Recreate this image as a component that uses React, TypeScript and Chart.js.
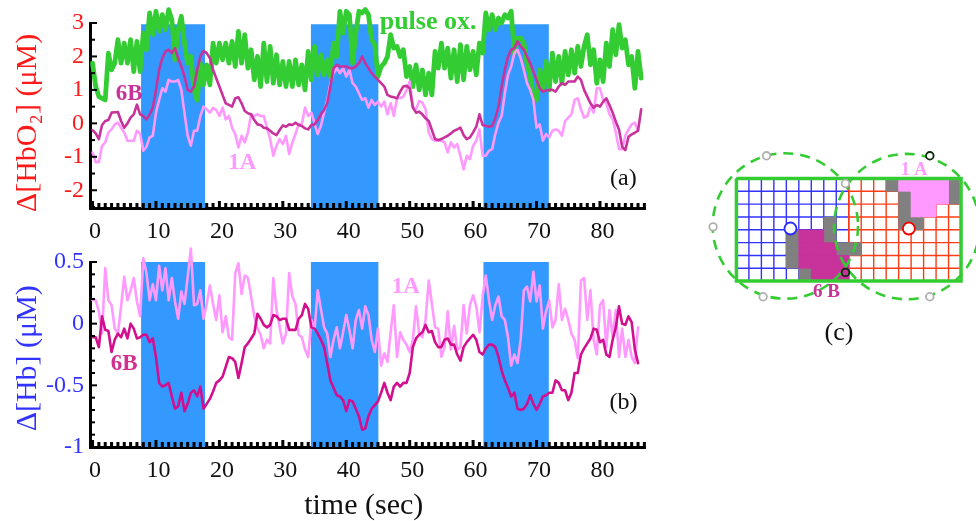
import React, { useEffect, useRef } from "react";
import { Chart, registerables } from "chart.js";

Chart.register(...registerables);

const SERIF = '"Liberation Serif", "Times New Roman", serif';
const SAMPLE_STEP = 0.5;

const stimStart = [7.65, 34.4, 61.6];
const stimEnd = [17.75, 45.1, 71.95];

const hbo2SixB = [
  -.2,-.3,-.47,-.05,.07,.1,.32,.33,.34,.07,-.13,0,.17,.27,.56,.27,.22,.12,.27,.47,1.0,1.6,1.95,2.15,2.2,2.1,2.25,1.95,1.7,1.4,1.0,.95,1.1,1.6,2.0,2.17,2.1,1.95,1.6,1.35,1.1,.85,.6,.55,.5,.75,.78,.6,.37,.3,.27,.1,-.03,-.05,-.13,-.15,-.22,-.3,-.35,-.2,-.06,-.1,-.03,-.05,.02,-.05,-.08,-.15,-.18,-.05,-.03,.1,.27,.4,.6,1.1,1.65,1.75,1.7,1.7,1.7,1.65,1.65,1.7,1.8,2.0,1.8,1.65,1.5,1.4,1.3,1.2,1.1,.85,.8,.78,.75,.95,1.1,1.12,1.05,.47,.32,.35,.27,.15,.07,-.2,-.47,-.5,-.47,-.42,-.37,-.3,-.22,-.18,-.13,-.35,-.47,-.42,-.27,-.1,.27,-.05,-.08,-.1,-.08,.15,.5,1.1,1.6,2.0,2.2,2.25,2.45,2.3,2.2,2.0,1.8,1.55,1.3,1.05,.95,.98,1.0,1.0,.95,1.1,1.2,1.15,1.25,1.25,1.25,1.4,1.3,1.0,.8,.6,.47,.55,.5,.65,.75,.55,.32,.05,-.18,-.7,-.8,-.4,-.33,-.28,-.22,.42,
];
const hbo2OneA = [
  -.87,-1.16,-1.16,-.67,-.57,-.27,-.18,-.03,.02,-.13,-.27,-.52,-.52,-.52,-.22,-.3,-.82,-.7,-.42,-.37,.32,.7,1.05,.95,1.3,1.25,1.25,1.3,1.0,.3,-.37,-.67,-.22,-.22,.22,.5,.42,.32,.46,.4,.22,.47,.12,.22,-.13,-.32,-.72,-.37,-.57,-.27,.27,.22,.27,.22,.22,-.13,-.47,-.97,-.67,-.47,-.62,-.37,-.92,-.57,-.32,-.02,-.02,.47,.22,.32,0,-.32,-.08,.32,.7,1.2,1.5,1.65,1.5,1.65,1.4,1.6,1.2,1.1,.9,.7,.75,.47,.7,.55,.65,.5,.65,.27,.6,.22,.75,.75,.8,1.0,1.25,.5,.42,.67,.62,.42,-.27,-.47,-.52,-.52,-.52,-.57,-.87,-.57,-.72,-.62,-.97,-1.38,-.97,-1.07,-.67,-.52,-.18,-.97,-.97,-.82,-.77,-.32,.02,.22,.9,1.45,1.7,2.1,2.2,1.95,1.6,1.2,1.0,.7,-.13,-.03,-.52,-.32,-.42,-.22,-.18,-.22,-.37,.07,.17,.27,.7,.75,.42,.17,.22,.5,.32,1.05,1.05,.7,.6,.27,.12,-.27,-.77,-.77,-.37,-.18,-.03,.02,-.22,
];
const pulseOx = [
  1.8,1.1,.8,.75,.7,2.1,1.6,1.8,2.5,1.8,2.4,1.8,2.5,1.55,2.45,1.55,2.7,2.2,3.3,2.65,3.35,2.75,3.25,2.8,3.4,3.1,1.9,2.8,3.2,2.4,1.8,2.0,1.0,.7,1.8,1.15,1.75,1.15,2.4,1.8,2.4,1.9,2.4,1.8,2.45,1.7,2.75,1.8,2.65,1.65,2.2,1.3,2,1.1,2.4,1.25,2.3,1.2,2.05,1.15,1.85,1.1,1.85,1.1,1.9,1.15,1.75,1,2.15,1.3,2.3,1.45,2.05,1.45,1.9,1.4,2.4,2.0,3.35,2.7,3.35,3.25,1.8,2.7,3.35,3.3,3.4,3.25,2.5,2.35,1.4,1.7,1.8,2,2.65,2.25,2.3,2,2.2,1.4,1.7,1.1,1.75,1,1.6,.85,1.5,.85,2.15,1.65,2.4,1.65,2.25,1.35,2.2,1.25,2.35,1.3,2.3,1.6,2.15,1.45,2.4,2.1,3.3,2.8,3.25,2.8,3.15,3.0,3.25,3.15,3.35,2.1,2.55,2.55,2.4,1.8,1.4,.8,.7,1.6,1,1.85,1,2.1,1.25,2,1.2,2.15,1.45,2.2,1.5,2.3,1.7,2.3,2.65,1.75,2.2,1.2,1.9,1.25,2.4,1.7,2.8,2.05,2.95,2.25,2.5,1.75,2,1.05,2.15,1.35,
];
const hbOneA = [
  .19,.19,.1,-.08,.45,.19,.15,-.04,-.08,.14,.38,.19,.27,.37,.18,.06,.53,.41,.19,.32,.19,.47,.27,.45,.19,.37,.18,.04,.26,.16,.38,.61,.15,.16,.27,.04,.16,.31,.16,.03,.23,-.07,.06,-.11,-.13,.41,.49,.24,.39,.37,.22,.06,-.04,-.09,-.2,-.13,-.16,.37,.11,-.03,-.16,-.08,.41,.22,.16,-.09,-.11,-.21,-.27,.03,-.05,.27,.12,-.03,-.08,-.27,-.13,-.03,-.2,-.07,.07,-.05,-.2,.03,.11,-.04,.14,.07,-.13,-.23,-.04,-.34,-.24,-.31,-.07,.15,-.27,-.07,-.13,-.17,-.23,-.13,.14,-.08,-.11,.03,.35,.16,-.03,-.04,-.27,-.19,.1,-.21,-.02,-.21,-.19,.15,-.08,.15,.23,.14,-.07,.22,.39,.19,.03,.15,.22,.06,.03,-.11,-.34,-.25,-.32,-.13,.27,.3,.18,.42,.18,.31,-.04,.1,.19,-.03,.03,.32,.03,.12,.03,-.08,-.13,-.28,.35,.37,.03,.27,-.13,-.25,.15,.19,-.19,.11,-.11,.11,-.27,-.04,-.27,-.13,-.27,-.32,-.03,
];
const hbSixB = [
  -.11,-.11,-.19,.06,-.05,-.06,-.23,-.13,-.08,-.11,-.04,-.12,0,-.04,-.12,-.11,-.09,-.09,-.15,-.12,-.27,-.48,-.51,-.5,-.48,-.59,-.69,-.67,-.56,-.71,-.65,-.56,-.54,-.59,-.51,-.69,-.65,-.61,-.55,-.48,-.46,-.43,-.35,-.27,-.28,-.31,-.44,-.32,-.19,-.16,-.12,-.08,.08,.04,-.01,-.03,-.01,.07,.06,.03,.04,.04,-.05,-.05,-.05,.04,.07,.16,.12,-.03,-.04,-.08,-.13,-.19,-.32,-.46,-.52,-.58,-.59,-.62,-.71,-.62,-.63,-.69,-.75,-.86,-.85,-.75,-.69,-.66,-.63,-.56,-.48,-.56,-.62,-.51,-.48,-.51,-.48,-.48,-.4,-.19,-.12,-.09,-.07,-.01,-.07,-.06,-.15,-.19,-.19,-.13,-.12,-.17,-.17,-.25,-.3,-.19,-.15,-.12,-.09,-.13,-.23,-.25,-.2,-.17,-.17,-.19,-.27,-.38,-.46,-.52,-.59,-.56,-.69,-.7,-.69,-.65,-.58,-.65,-.7,-.65,-.59,-.58,-.56,-.56,-.46,-.48,-.54,-.54,-.62,-.56,-.4,-.4,-.25,-.2,-.16,-.12,-.04,-.05,-.15,-.13,-.25,-.27,-.13,-.03,.14,0,-.01,.06,.01,-.21,-.32,
];

const xTicksLabelled = [0, 10, 20, 30, 40, 50, 60, 70, 80];

const panelALabels = [
  { text: "6B", x: 5.76, y: 0.89, font: "bold 23px", color: "#C8329B" },
  { text: "1A", x: 23.6, y: -1.18, font: "bold 23px", color: "#FF99FF" },
  { text: "pulse ox.", x: 52.9, y: 3.02, font: "bold 26px", color: "#33CC33" },
  { text: "(a)", x: 83.7, y: -1.65, font: "24px", color: "#111111" },
];
const panelBLabels = [
  { text: "6B", x: 5.0, y: -0.33, font: "bold 23px", color: "#D0308F" },
  { text: "1A", x: 49.4, y: 0.3, font: "bold 23px", color: "#FF99FF" },
  { text: "(b)", x: 83.7, y: -0.64, font: "24px", color: "#111111" },
];
const panelCLabels = [
  { text: "1 A", x: 14.23, y: -0.6, font: "bold 18px", color: "#FF99FF" },
  { text: "6 B", x: 7.22, y: 8.85, font: "bold 19px", color: "#C8329B" },
  { text: "(c)", x: 8.22, y: 12.04, font: "26px", color: "#111111" },
];

const gridColsLeft = [0, 1, 2, 3, 4, 5, 6, 7, 8, 9];
const gridColsRight = [9, 10, 11, 12, 13, 14, 15, 16, 17, 18];
const gridRows = [0, 1, 2, 3, 4, 5, 6, 7, 8];

const grayCells = [[12,0],[17,0],[17,1],[13,1],[13,2],[13,3],[14,3],[7,3],[7,4],[4,4],[4,5],[4,6],[8,5],[9,5],[5,7]];
const magentaCells = [[5,4],[6,4],[5,5],[6,5],[7,5],[5,6],[6,6],[7,6],[8,6],[6,7],[7,7],[8,7]];
const pinkCells = [[13,0],[14,0],[15,0],[16,0],[14,1],[15,1],[16,1],[14,2],[15,2]];

const outline = [{x:0,y:0},{x:18,y:0},{x:18,y:8},{x:0,y:8},{x:0,y:0}];
const circleCentres = [{x:3.92,y:3.7},{x:13.65,y:3.75}];
const grayOptodes = [{x:2.41,y:-1.77},{x:-1.87,y:3.77},{x:2.14,y:9.22},{x:8.74,y:.39},{x:15.5,y:9.22}];
const blackOptodes = [{x:15.5,y:-1.77}];
const blackOptodesOnCell = [{x:8.74,y:7.32}];
const blueSource = [{x:4.33,y:3.9}];
const redSource = [{x:13.82,y:3.9}];

const series = (values: number[]) => values.map((y, i) => ({ x: i * SAMPLE_STEP, y }));

const labelPlugin = (labels: any[]) => ({
  id: "textLabels",
  afterDraw(chart: any) {
    const { ctx, scales } = chart;
    ctx.save();
    ctx.textAlign = "center";
    ctx.textBaseline = "middle";
    for (const l of labels) {
      ctx.font = `${l.font} ${SERIF}`;
      ctx.fillStyle = l.color;
      ctx.fillText(l.text, scales.x.getPixelForValue(l.x), scales.y.getPixelForValue(l.y));
    }
    ctx.restore();
  },
});

const isMul = (v: number, m: number) => Math.abs(v / m - Math.round(v / m)) < 1e-6;

const inwardTicks = (yMajor: number) => ({
  id: "inwardTicks",
  afterDatasetsDraw(chart: any) {
    const { ctx, scales } = chart;
    ctx.save();
    ctx.strokeStyle = "#000";
    ctx.lineWidth = 3;
    for (const t of scales.x.ticks) {
      const p = scales.x.getPixelForValue(t.value);
      const len = isMul(t.value, 10) ? 7 : 5;
      ctx.beginPath();
      ctx.moveTo(p, scales.x.top);
      ctx.lineTo(p, scales.x.top - len);
      ctx.stroke();
    }
    ctx.lineWidth = 2;
    for (const t of scales.y.ticks) {
      const p = scales.y.getPixelForValue(t.value);
      const len = isMul(t.value, yMajor) ? 7 : 5;
      ctx.beginPath();
      ctx.moveTo(scales.y.right, p);
      ctx.lineTo(scales.y.right + len, p);
      ctx.stroke();
    }
    ctx.restore();
  },
});

const bandDatasets = (top: number, bottom: number) =>
  stimStart.map((s, i) => ({
    type: "line",
    data: [{ x: s, y: top }, { x: stimEnd[i], y: top }],
    borderWidth: 0,
    pointRadius: 0,
    backgroundColor: "#3399FF",
    borderColor: "#3399FF",
    fill: { value: bottom },
    order: 10,
  }));

const traceDataset = (values: number[], color: string, width: number, order: number) => ({
  type: "line",
  data: series(values),
  borderColor: color,
  borderWidth: width,
  borderJoinStyle: "round",
  borderCapStyle: "round",
  pointRadius: 0,
  tension: 0,
  fill: false,
  clip: false,
  order,
});

const xScale = (title?: string) => ({
  type: "linear",
  min: -0.4,
  max: 87.1,
  border: { display: true, color: "#000", width: 3 },
  grid: { display: false, drawTicks: false },
  ticks: {
    stepSize: 1,
    includeBounds: false,
    autoSkip: false,
    maxRotation: 0,
    minRotation: 0,
    padding: 9,
    labelOffset: 2.5,
    color: "#111",
    font: { family: SERIF, size: 24 },
    callback: (v: number) => (xTicksLabelled.includes(v) ? String(v) : ""),
  },
  title: title
    ? { display: true, text: title, color: "#111", font: { family: SERIF, size: 30, lineHeight: 1 }, padding: 0 }
    : { display: false },
});

const yScale = (min: number, max: number, step: number, major: number, color: string, title: string) => ({
  type: "linear",
  min,
  max,
  border: { display: true, color: "#000", width: 3 },
  grid: { display: false, drawTicks: false },
  ticks: {
    stepSize: step,
    includeBounds: false,
    autoSkip: false,
    padding: 6,
    color,
    font: { family: SERIF, size: 24 },
    callback: (v: number) => (isMul(v, major) ? String(Math.round(v * 10) / 10) : ""),
  },
  title: { display: true, text: title, color, font: { family: SERIF, size: 30 }, padding: { top: 10, bottom: 0 } },
  afterFit: (s: any) => {
    s.width = 90;
  },
});

const baseOptions = {
  responsive: false,
  animation: false,
  events: [],
  plugins: { legend: { display: false }, tooltip: { enabled: false } },
};

const cells = (list: number[][], color: string, order: number) => ({
  type: "bar",
  data: list.map(([c, r]) => ({ x: c + 0.5, y: [r, r + 1] })),
  backgroundColor: color,
  barThickness: 12.6,
  grouped: false,
  borderWidth: 0,
  order,
});

const polyline = (points: any[], color: string, width: number, order: number) => ({
  type: "line",
  data: points,
  showLine: true,
  borderColor: color,
  borderWidth: width,
  pointRadius: 0,
  fill: false,
  spanGaps: false,
  clip: false,
  order,
});

const latticePoints = (cols: number[], rows: number[]) => {
  const pts: any[] = [];
  for (const r of rows) {
    pts.push({ x: cols[0], y: r }, { x: cols[cols.length - 1], y: r }, { x: NaN, y: NaN });
  }
  for (const c of cols) {
    pts.push({ x: c, y: rows[0] }, { x: c, y: rows[rows.length - 1] }, { x: NaN, y: NaN });
  }
  return pts;
};

const markers = (points: any[], radius: number, border: string, fill: string, width: number, order: number) => ({
  type: "scatter",
  data: points,
  showLine: false,
  pointRadius: radius,
  pointBorderColor: border,
  pointBackgroundColor: fill,
  pointBorderWidth: width,
  clip: false,
  order,
});

const dashedCircles = {
  id: "dashedCircles",
  beforeDatasetDraw(chart: any, args: any) {
    if (chart.data.datasets[args.index].dashed) {
      chart.ctx.save();
      chart.ctx.setLineDash([10, 7]);
    }
  },
  afterDatasetDraw(chart: any, args: any) {
    if (chart.data.datasets[args.index].dashed) chart.ctx.restore();
  },
};

export default function App() {
  const a = useRef<HTMLCanvasElement>(null);
  const b = useRef<HTMLCanvasElement>(null);
  const c = useRef<HTMLCanvasElement>(null);

  useEffect(() => {
    const chartA = new Chart(a.current as any, {
      type: "line",
      data: {
        datasets: [
          ...bandDatasets(2.96, -2.53),
          traceDataset(pulseOx, "#33CC33", 4.8, 3),
          traceDataset(hbo2OneA, "#FF99FF", 2.6, 2),
          traceDataset(hbo2SixB, "#C8329B", 2.6, 1),
        ],
      } as any,
      options: {
        ...baseOptions,
        layout: { autoPadding: false, padding: { top: 23, right: 15, left: 0, bottom: 0 } },
        scales: {
          x: { ...xScale(), afterFit: (s: any) => { s.height = 52; } },
          y: yScale(-2.53, 3, 0.5, 1, "#FF1A1A", "Δ[HbO₂] (μM)  "),
        },
      } as any,
      plugins: [inwardTicks(1), labelPlugin(panelALabels)],
    });

    const chartB = new Chart(b.current as any, {
      type: "line",
      data: {
        datasets: [
          ...bandDatasets(0.5, -1),
          traceDataset(hbOneA, "#FF99FF", 2.6, 2),
          traceDataset(hbSixB, "#D2108F", 2.6, 1),
        ],
      } as any,
      options: {
        ...baseOptions,
        layout: { autoPadding: false, padding: { top: 22, right: 15, left: 0, bottom: 0 } },
        scales: {
          x: { ...xScale("time (sec) "), afterFit: (s: any) => { s.height = 74; } },
          y: yScale(-1, 0.5, 0.1, 0.5, "#3333FF", "Δ[Hb] (μM) "),
        },
      } as any,
      plugins: [inwardTicks(0.5), labelPlugin(panelBLabels)],
    });

    const chartC = new Chart(c.current as any, {
      type: "scatter",
      data: {
        datasets: [
          polyline(latticePoints(gridColsLeft, gridRows), "#3232FF", 1.4, 9),
          polyline(latticePoints(gridColsRight, gridRows), "#FF3C14", 1.4, 8),
          cells(grayCells, "#808080", 7),
          cells(magentaCells, "#C8329B", 6),
          cells(pinkCells, "#FF99FF", 5),
          polyline(outline, "#33CC33", 3.5, 4),
          { ...markers(circleCentres, 72.7, "#33CC33", "rgba(0,0,0,0)", 2.6, 3), dashed: true },
          markers(grayOptodes, 3.8, "#B0B0B0", "#FFFFFF", 1.8, 2),
          markers(blackOptodes, 3.8, "#0A280A", "#FFFFFF", 1.8, 2),
          markers(blackOptodesOnCell, 3.8, "#0A280A", "#C8329B", 1.8, 2),
          markers(blueSource, 6, "#2A2AFF", "#FFFFFF", 1.8, 1),
          markers(redSource, 6, "#F00000", "#FFFFFF", 1.8, 1),
        ],
      } as any,
      options: {
        ...baseOptions,
        layout: { autoPadding: false, padding: 0 },
        scales: {
          x: { type: "linear", min: -3, max: 19.2, offset: false, display: false },
          y: { type: "linear", min: -3, max: 13.37, reverse: true, display: false },
        },
      } as any,
      plugins: [dashedCircles, labelPlugin(panelCLabels)],
    });

    return () => {
      chartA.destroy();
      chartB.destroy();
      chartC.destroy();
    };
  }, []);

  return (
    <div style={{ position: "relative", width: 976, height: 521, overflow: "hidden", background: "#fff" }}>
      <style>{`html,body{margin:0;padding:0;overflow:hidden;background:#fff}`}</style>
      <canvas ref={a} width={660} height={260} style={{ position: "absolute", left: 0, top: 0 }} />
      <canvas ref={b} width={660} height={281} style={{ position: "absolute", left: 0, top: 240 }} />
      <canvas ref={c} width={277} height={210} style={{ position: "absolute", left: 699, top: 140 }} />
    </div>
  );
}
